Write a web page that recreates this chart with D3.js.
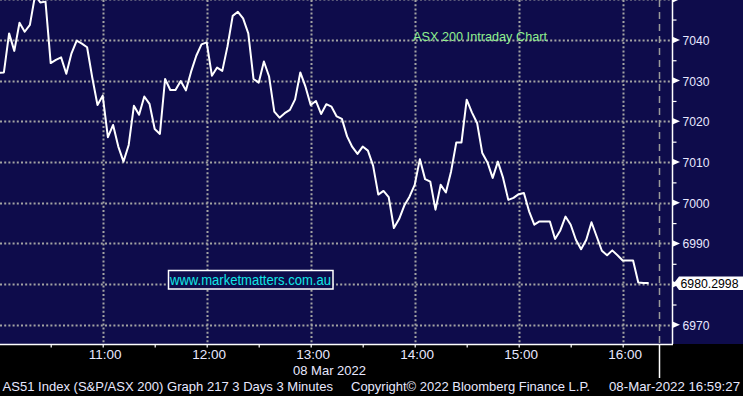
<!DOCTYPE html>
<html>
<head>
<meta charset="utf-8">
<script src="https://cdn.jsdelivr.net/npm/d3@7"></script>
<style>
  body { margin: 0; background: #000; }
  svg { display: block; }
</style>
</head>
<body>
<div class="chart"></div>
<script>
// 3 minute bars from 10:00
var startTime = "10:00";
var stepMinutes = 3;
var prices = [
  7031.9, 7032.0, 7041.6, 7037.3, 7044.2, 7042.0, 7043.7, 7051.0, 7049.2, 7049.4,
  7034.3, 7035.1, 7035.7, 7031.7, 7036.7, 7039.8, 7039.1, 7038.2, 7030.7, 7024.0,
  7026.3, 7016.1, 7019.1, 7013.8, 7010.1, 7014.2, 7023.8, 7021.6, 7026.1, 7024.3,
  7018.1, 7016.9, 7030.4, 7027.7, 7027.7, 7029.9, 7027.6, 7032.2, 7036.1, 7038.9,
  7039.4, 7031.2, 7033.2, 7032.4, 7038.4, 7045.9, 7046.9, 7045.3, 7041.6, 7030.4,
  7029.5, 7034.7, 7031.0, 7022.4, 7020.9, 7022.0, 7022.8, 7025.4, 7032.0, 7028.5,
  7024.0, 7025.0, 7021.8, 7024.2, 7023.6, 7021.2, 7020.6, 7016.3, 7013.7, 7012.0,
  7013.8, 7012.8, 7009.1, 7002.0, 7002.9, 7001.4, 6993.8, 6996.0, 6999.3, 7001.5,
  7004.4, 7010.7, 7005.8, 7005.2, 6998.3, 7004.4, 7002.5, 7007.7, 7014.8, 7014.8,
  7025.3, 7022.2, 7019.6, 7012.2, 7009.9, 7006.1, 7010.1, 7006.1, 7000.7, 7001.2,
  7002.1, 7002.4, 6997.9, 6994.6, 6995.4, 6995.4, 6995.4, 6991.1, 6993.2, 6996.6,
  6994.6, 6990.9, 6988.6, 6990.9, 6995.2, 6991.7, 6988.2, 6987.1, 6988.3, 6987.1,
  6985.8, 6985.8, 6985.8, 6980.4, 6980.3, 6980.3
];
var yTicks = [6970, 6980, 6990, 7000, 7010, 7020, 7030, 7040, 7050];
var yMinorTicks = [6975, 6985, 6995, 7005, 7015, 7025, 7035, 7045];
var hourTicks = ["11:00", "12:00", "13:00", "14:00", "15:00", "16:00"];
var halfHourTicks = ["10:30", "11:30", "12:30", "13:30", "14:30", "15:30"];
var nowMarker = "16:21";
var lastPriceText = "6980.2998";
var lastPrice = 6980.2998;
var titleText = "ASX 200 Intraday Chart";
var siteText = "www.marketmatters.com.au";
var dateText = "08 Mar 2022";
var footerTexts = [
  "AS51 Index (S&P/ASX 200) Graph 217 3 Days 3 Minutes",
  "Copyright\u00a9 2022 Bloomberg Finance L.P.",
  "08-Mar-2022 16:59:27"
];

var width = 743, height = 396;
var plotW = 672, plotH = 344;
var navy = "#0e0c4b";
var gridColor = "#a3a3a3";
var font = "'Liberation Sans', Arial, sans-serif";

var parseTime = d3.timeParse("%Y-%m-%d %H:%M");
function t(hm) { return parseTime("2022-03-08 " + hm); }
var t0 = t(startTime);

var x = d3.scaleTime()
  .domain([d3.timeSecond.offset(t0, 45), d3.timeSecond.offset(t0, 23307)])
  .range([0, plotW]);
var y = d3.scaleLinear().domain([6965.3, 7049.8]).range([plotH, 0]);

var points = prices.map(function (p, i) {
  return { time: d3.timeMinute.offset(t0, i * stepMinutes), value: p };
});

var svg = d3.select(".chart").append("svg")
  .attr("width", width)
  .attr("height", height)
  .style("font-family", font);

svg.append("rect").attr("width", width).attr("height", height).attr("fill", "#000");
svg.append("rect").attr("width", width).attr("height", plotH).attr("fill", navy);

svg.append("clipPath").attr("id", "plotClip")
  .append("rect").attr("width", plotW).attr("height", plotH);

var plot = svg.append("g").attr("clip-path", "url(#plotClip)");

// grid
plot.selectAll(".hgrid").data(yTicks).enter().append("line")
  .attr("x1", 0).attr("x2", plotW)
  .attr("y1", function (d) { return Math.round(y(d)) + 0.5; })
  .attr("y2", function (d) { return Math.round(y(d)) + 0.5; })
  .attr("stroke", gridColor).attr("stroke-width", 2)
  .attr("stroke-dasharray", "2,2.2");

plot.selectAll(".vgrid").data(hourTicks).enter().append("line")
  .attr("x1", function (d) { return Math.round(x(t(d))) + 0.5; })
  .attr("x2", function (d) { return Math.round(x(t(d))) + 0.5; })
  .attr("y1", 0).attr("y2", plotH)
  .attr("stroke", gridColor).attr("stroke-width", 2)
  .attr("stroke-dasharray", "2,2.2");

var nowX = Math.round(x(t(nowMarker))) + 0.5;
plot.append("line")
  .attr("x1", nowX).attr("x2", nowX).attr("y1", 0).attr("y2", plotH)
  .attr("stroke", "#9a9a9a").attr("stroke-width", 1.5)
  .attr("stroke-dasharray", "7,5");
svg.append("line")
  .attr("x1", nowX).attr("x2", nowX).attr("y1", plotH).attr("y2", 378)
  .attr("stroke", "#fff").attr("stroke-width", 1.5);

// price line
var line = d3.line()
  .x(function (d) { return x(d.time); })
  .y(function (d) { return y(d.value); });

plot.append("path")
  .datum(points)
  .attr("d", line)
  .attr("fill", "none")
  .attr("stroke", "#fff")
  .attr("stroke-width", 2)
  .attr("stroke-linejoin", "round");

// title and watermark
svg.append("text")
  .attr("x", 413).attr("y", 41)
  .attr("font-size", 13)
  .attr("textLength", 134).attr("lengthAdjust", "spacingAndGlyphs")
  .attr("fill", "#8ff08f")
  .text(titleText);

svg.append("rect")
  .attr("x", 168.5).attr("y", 270.5).attr("width", 164.5).attr("height", 18.5)
  .attr("fill", navy).attr("stroke", "#fff").attr("stroke-width", 1.5);
svg.append("text")
  .attr("x", 170).attr("y", 285)
  .attr("font-size", 14)
  .attr("textLength", 161).attr("lengthAdjust", "spacingAndGlyphs")
  .attr("fill", "#12e6e6")
  .text(siteText);

// right axis
var ly = y(lastPrice);
var yAxis = svg.append("g")
  .attr("transform", "translate(" + (plotW + 0.5) + ",0)")
  .call(d3.axisRight(y).tickValues(yMinorTicks).tickSize(4).tickFormat(""));
yAxis.select(".domain").attr("stroke", "#fff").attr("stroke-width", 1.5)
  .attr("d", "M0,0V" + plotH);
yAxis.selectAll(".tick line").attr("stroke", "#fff").attr("stroke-width", 1.2);

var majors = svg.append("g").selectAll("g").data(yTicks).enter().append("g")
  .attr("transform", function (d) { return "translate(" + plotW + "," + y(d) + ")"; });
majors.append("path")
  .attr("d", "M0,-3.5L8,0L0,3.5Z")
  .attr("fill", "#fff");
// the last price tag covers the label next to it
majors.filter(function (d) { return y(d) > 6 && Math.abs(y(d) - ly) > 10; }).append("text")
  .attr("x", 10.5).attr("y", 5)
  .attr("font-size", 13.5)
  .attr("textLength", 27).attr("lengthAdjust", "spacingAndGlyphs")
  .attr("fill", "#e8e8ff")
  .text(function (d) { return d; });

// bottom axis
var xAxis = svg.append("g")
  .attr("transform", "translate(0," + (plotH + 0.5) + ")")
  .call(d3.axisBottom(x)
    .tickValues(hourTicks.concat(halfHourTicks).map(t))
    .tickSize(3)
    .tickFormat(function (d) { return d.getMinutes() === 0 ? d3.timeFormat("%H:%M")(d) : ""; }));
xAxis.select(".domain").attr("stroke", "#fff").attr("stroke-width", 1.5)
  .attr("d", "M0,0H" + (plotW + 1));
xAxis.selectAll(".tick line").attr("stroke", "#fff").attr("stroke-width", 1.2);
xAxis.selectAll(".tick text")
  .attr("y", 14.5).attr("dy", 0)
  .attr("dx", 2)
  .attr("font-family", font).attr("font-size", 13.5)
  .attr("fill", "#e8e8ff");

svg.append("text")
  .attr("x", 293).attr("y", 375)
  .attr("font-size", 13.5)
  .attr("textLength", 73).attr("lengthAdjust", "spacingAndGlyphs")
  .attr("fill", "#e8e8ff")
  .text(dateText);

// last price tag
svg.append("path")
  .attr("d", "M674," + ly + "L679," + (ly - 6.5) + "H743V" + (ly + 7) + "H679Z")
  .attr("fill", "#fff");
svg.append("text")
  .attr("x", 680.5).attr("y", ly + 5)
  .attr("font-size", 13.5)
  .attr("textLength", 58).attr("lengthAdjust", "spacingAndGlyphs")
  .attr("fill", "#000")
  .text(lastPriceText);

// footer
var footerX = [2.5, 351, 609];
var footerW = [330.5, 239, 131];
svg.selectAll(".footer").data(footerTexts).enter().append("text")
  .attr("x", function (d, i) { return footerX[i]; })
  .attr("y", 391)
  .attr("font-size", 13.5)
  .attr("textLength", function (d, i) { return footerW[i]; })
  .attr("lengthAdjust", "spacingAndGlyphs")
  .attr("fill", "#e8e8ff")
  .text(function (d) { return d; });
</script>
</body>
</html>
